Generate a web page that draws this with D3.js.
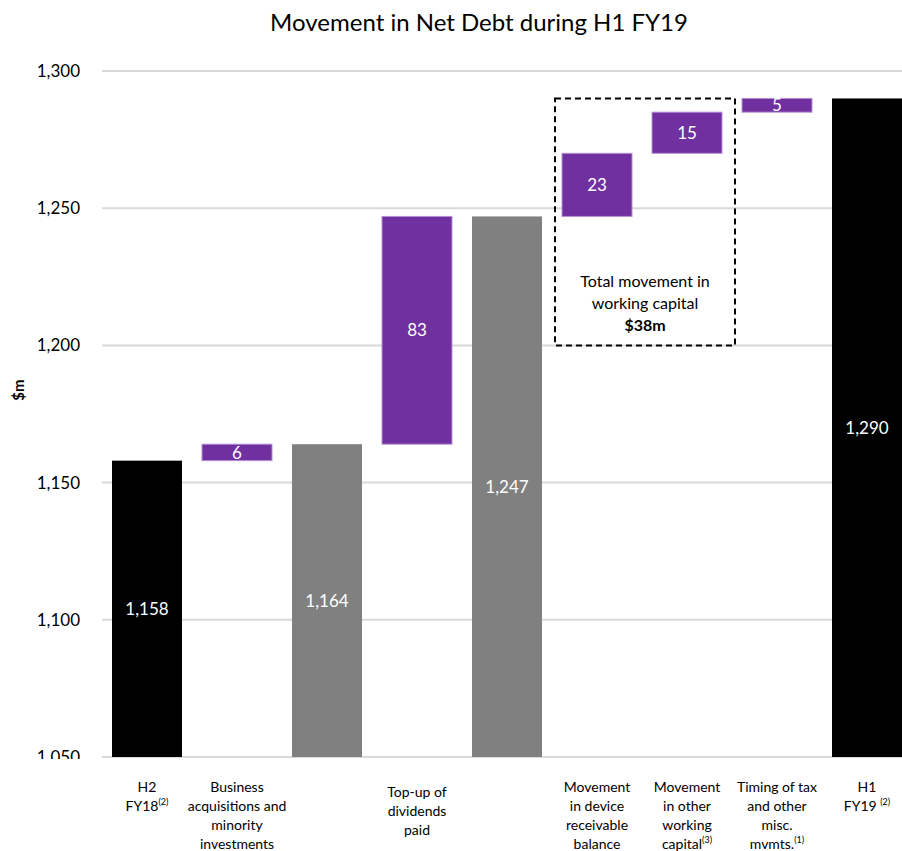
<!DOCTYPE html>
<html lang="en">
<head>
<meta charset="UTF-8">
<title>Movement in Net Debt during H1 FY19</title>
<script src="https://cdn.jsdelivr.net/npm/d3@7"></script>
<style>
  body { margin: 0; background: #fff; }
  text { font-family: Lato, "Open Sans", sans-serif; }
</style>
</head>
<body>
<script>
// data
var steps = ["start", "acq", "sub1", "div", "sub2", "device", "otherwc", "tax", "end"];
var kinds = ["total", "delta", "subtotal", "delta", "subtotal", "delta", "delta", "delta", "total"];
var values = [1158, 6, 1164, 83, 1247, 23, 15, 5, 1290];
var valueLabels = ["1,158", "6", "1,164", "83", "1,247", "23", "15", "5", "1,290"];
// each label line: [text, superscript]
var catLabels = [
  [["H2", ""], ["FY18", "(2)"]],
  [["Business", ""], ["acquisitions and", ""], ["minority", ""], ["investments", ""]],
  [],
  [["Top-up of", ""], ["dividends", ""], ["paid", ""]],
  [],
  [["Movement", ""], ["in device", ""], ["receivable", ""], ["balance", ""]],
  [["Movement", ""], ["in other", ""], ["working", ""], ["capital", "(3)"]],
  [["Timing of tax", ""], ["and other", ""], ["misc.", ""], ["mvmts.", "(1)"]],
  [["H1", ""], ["FY19 ", "(2)"]]
];
var yTicks = [1050, 1100, 1150, 1200, 1250, 1300];
var boxRange = [1200, 1290];
var boxLines = ["Total movement in", "working capital", "$38m"];

var w = 902, h = 851;
var colors = { total: "#000000", subtotal: "#808080", delta: "#7030a0" };

var svg = d3.select("body").append("svg")
  .attr("width", w)
  .attr("height", h)
  .style("display", "block");

var x = d3.scaleBand()
  .domain(steps)
  .range([102, 912])
  .paddingInner(2 / 9)
  .paddingOuter(1 / 9);

var y = d3.scaleLinear()
  .domain([1050, 1300])
  .range([757, 71]);

// waterfall bases
var bars = [];
var running = 0;
values.forEach(function(v, i) {
  if (kinds[i] == "delta") {
    bars.push({ key: steps[i], lo: running, hi: running + v, kind: kinds[i], label: valueLabels[i] });
    running += v;
  } else {
    bars.push({ key: steps[i], lo: 1050, hi: v, kind: kinds[i], label: valueLabels[i] });
    running = v;
  }
});

// title
svg.append("text")
  .attr("x", 479)
  .attr("y", 31)
  .attr("text-anchor", "middle")
  .attr("font-size", 24)
  .attr("fill", "#000")
  .text("Movement in Net Debt during H1 FY19");

// gridlines
svg.selectAll("line.grid")
  .data(yTicks)
  .enter()
  .append("line")
  .attr("class", "grid")
  .attr("x1", 102)
  .attr("x2", w)
  .attr("y1", function(d) { return y(d) })
  .attr("y2", function(d) { return y(d) })
  .attr("stroke", "#d9d9d9")
  .attr("stroke-width", 2);

// y tick labels (bottom one is cut off in the original)
svg.append("clipPath").attr("id", "yclip")
  .append("rect").attr("x", -100).attr("y", 0).attr("width", 100).attr("height", 759);

var yAxis = svg.append("g")
  .attr("transform", "translate(80,0)")
  .attr("clip-path", "url(#yclip)")
  .call(d3.axisLeft(y).tickValues(yTicks).tickSize(0).tickPadding(0).tickFormat(d3.format(",")));
yAxis.select(".domain").remove();
yAxis.selectAll("text")
  .attr("font-size", 17)
  .attr("font-family", "Lato, sans-serif")
  .attr("fill", "#000");

svg.append("text")
  .attr("transform", "translate(24,390) rotate(-90)")
  .attr("text-anchor", "middle")
  .attr("font-size", 15)
  .attr("font-weight", "bold")
  .text("$m");

// bars
svg.selectAll("rect.bar")
  .data(bars)
  .enter()
  .append("rect")
  .attr("class", "bar")
  .attr("x", function(d) { return x(d.key) })
  .attr("y", function(d) { return y(d.hi) })
  .attr("width", x.bandwidth())
  .attr("height", function(d) { return y(d.lo) - y(d.hi) })
  .attr("fill", function(d) { return colors[d.kind] })
  .attr("stroke", function(d) { return d.kind == "delta" ? "#b58fd3" : "none" })
  .attr("stroke-width", 1);

svg.selectAll("text.val")
  .data(bars)
  .enter()
  .append("text")
  .attr("class", "val")
  .attr("x", function(d) { return x(d.key) + x.bandwidth() / 2 })
  .attr("y", function(d) { return (y(d.lo) + y(d.hi)) / 2 })
  .attr("dy", "0.36em")
  .attr("text-anchor", "middle")
  .attr("font-size", 17)
  .attr("fill", "#fff")
  .text(function(d) { return d.label });

// dashed box around working capital bars
var bx0 = x("device") - 7, bx1 = x("otherwc") + x.bandwidth() + 13;
svg.append("rect")
  .attr("x", bx0)
  .attr("y", y(boxRange[1]))
  .attr("width", bx1 - bx0)
  .attr("height", y(boxRange[0]) - y(boxRange[1]))
  .attr("fill", "none")
  .attr("stroke", "#000")
  .attr("stroke-width", 2)
  .attr("stroke-dasharray", "6,4");

svg.selectAll("text.box")
  .data(boxLines)
  .enter()
  .append("text")
  .attr("class", "box")
  .attr("x", (bx0 + bx1) / 2)
  .attr("y", function(d, i) { return 287 + i * 22 })
  .attr("text-anchor", "middle")
  .attr("font-size", 16)
  .attr("font-weight", function(d, i) { return i == 2 ? "bold" : "normal" })
  .text(function(d) { return d });

// category labels
var cat = svg.selectAll("g.cat")
  .data(steps)
  .enter()
  .append("g")
  .attr("class", "cat")
  .attr("transform", function(d) { return "translate(" + (x(d) + x.bandwidth() / 2) + ",0)" });

cat.each(function(d, i) {
  var g = d3.select(this);
  var top = i == 3 ? 797 : 792;
  catLabels[i].forEach(function(line, j) {
    var t = g.append("text")
      .attr("x", 0)
      .attr("y", top + j * 19)
      .attr("text-anchor", "middle")
      .attr("font-size", 14)
      .attr("fill", "#000");
    t.append("tspan").text(line[0]);
    if (line[1]) {
      t.append("tspan")
        .attr("font-size", 9)
        .attr("dy", -6)
        .text(line[1]);
    }
  });
});
</script>
</body>
</html>
